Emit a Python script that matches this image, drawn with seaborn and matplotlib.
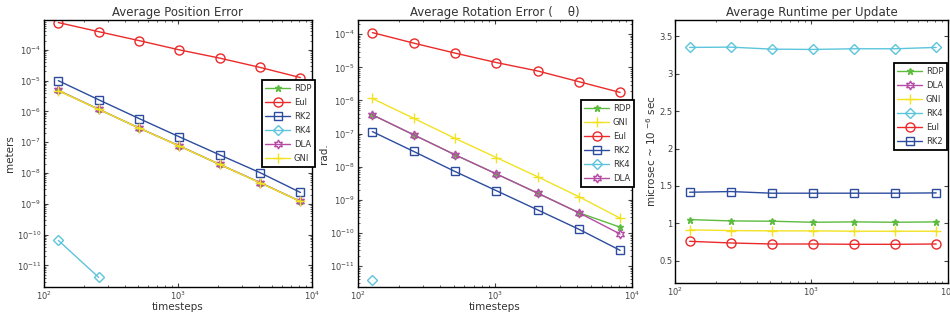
import numpy as np
import pandas as pd
import matplotlib
matplotlib.use("Agg")
import matplotlib.pyplot as plt
import seaborn as sns
from matplotlib.lines import Line2D

# timesteps
steps = [128, 256, 512, 1024, 2048, 4096, 8192]
nan = np.nan

# Average position error (meters)
pos_rdp = [4.8e-6, 1.18e-6, 2.9e-7, 7.6e-8, 1.9e-8, 4.9e-9, 1.2e-9]
pos_eul = [7.7e-4, 3.9e-4, 2.0e-4, 1.0e-4, 5.4e-5, 2.7e-5, 1.26e-5]
pos_rk2 = [1.0e-5, 2.4e-6, 5.9e-7, 1.5e-7, 3.9e-8, 1.03e-8, 2.35e-9]
pos_rk4 = [6.5e-11, 4.1e-12, nan, nan, nan, nan, nan]
pos_dla = [4.8e-6, 1.18e-6, 2.9e-7, 7.6e-8, 1.9e-8, 4.9e-9, 1.2e-9]
pos_gni = [4.7e-6, 1.17e-6, 2.9e-7, 7.5e-8, 1.9e-8, 4.8e-9, 1.2e-9]

# Average rotation error (rad.)
rot_rdp = [3.7e-7, 9.2e-8, 2.3e-8, 6.1e-9, 1.6e-9, 4.1e-10, 1.5e-10]
rot_gni = [1.15e-6, 2.9e-7, 7.2e-8, 1.9e-8, 5.0e-9, 1.25e-9, 2.8e-10]
rot_eul = [1.12e-4, 5.4e-5, 2.7e-5, 1.4e-5, 7.8e-6, 3.7e-6, 1.75e-6]
rot_rk2 = [1.15e-7, 2.9e-8, 7.2e-9, 1.9e-9, 5.0e-10, 1.3e-10, 3.0e-11]
rot_rk4 = [3.9e-12, nan, nan, nan, nan, nan, nan]
rot_dla = [3.7e-7, 9.2e-8, 2.3e-8, 6.1e-9, 1.6e-9, 4.1e-10, 9.3e-11]

# Average runtime per update (microsec)
run_rdp = [1.049, 1.031, 1.027, 1.013, 1.018, 1.013, 1.018]
run_dla = [nan, nan, nan, nan, nan, nan, nan]
run_gni = [0.911, 0.902, 0.898, 0.898, 0.893, 0.893, 0.893]
run_rk4 = [3.353, 3.357, 3.330, 3.326, 3.335, 3.335, 3.353]
run_eul = [0.758, 0.736, 0.722, 0.722, 0.718, 0.718, 0.722]
run_rk2 = [1.415, 1.424, 1.402, 1.402, 1.402, 1.402, 1.406]

styles = {
    'RDP': dict(color='#5dbb3f', marker='*', ms=5),
    'Eul': dict(color='#ec2a2a', marker='o', ms=6.5),
    'RK2': dict(color='#2c4c9e', marker='s', ms=5.5),
    'RK4': dict(color='#5cc5dc', marker='D', ms=5.5),
    'DLA': dict(color='#b44ca6', marker=(6, 1, 0), ms=6.5),
    'GNI': dict(color='#f2e222', marker='+', ms=7.5),
}

sns.set_style("ticks")
plt.rcParams['font.family'] = ['DejaVu Sans']
plt.rcParams['mathtext.fontset'] = 'dejavusans'

fig = plt.figure(figsize=(9.5, 3.2), dpi=100)
ax1 = fig.add_axes([0.0463, 0.1031, 0.2821, 0.8344])
ax2 = fig.add_axes([0.3765, 0.1031, 0.2888, 0.8344])
ax3 = fig.add_axes([0.7105, 0.1156, 0.2874, 0.8219])


def draw(ax, series, title, ylabel, xlabel, legend_anchor):
    ax.set_xscale('log')
    handles = []
    for name, vals in series:
        st = styles[name]
        mfc = st['color'] if name == 'RDP' else 'none'
        df = pd.DataFrame({'steps': steps, 'val': vals}).dropna()
        if len(df):
            sns.lineplot(data=df, x='steps', y='val', ax=ax, color=st['color'],
                         marker=st['marker'], markersize=st['ms'],
                         markerfacecolor=mfc, markeredgecolor=st['color'],
                         markeredgewidth=1.0, linewidth=1.0)
        handles.append(Line2D([], [], color=st['color'], marker=st['marker'],
                              markersize=st['ms'], markerfacecolor=mfc,
                              markeredgecolor=st['color'], markeredgewidth=1.0,
                              linewidth=1.0, label=name))
    ax.set_xlim(100, 10000)
    ax.set_title(title, fontsize=8.5, color='#333333', pad=3)
    ax.set_ylabel(ylabel, fontsize=7.5, color='#333333', labelpad=1)
    ax.set_xlabel(xlabel, fontsize=7.5, color='#333333', labelpad=0)
    ax.tick_params(which='both', direction='in', top=True, right=True,
                   labelsize=6, colors='#444444', pad=2)
    ax.tick_params(which='major', length=3)
    ax.tick_params(which='minor', length=1.5)
    for sp in ax.spines.values():
        sp.set_linewidth(1.0)
        sp.set_color('black')
    leg = ax.legend(handles=handles, loc='upper right', bbox_to_anchor=legend_anchor,
                    fontsize=6, frameon=True, fancybox=False, handlelength=3.0,
                    borderpad=0.45, labelspacing=0.6, handletextpad=0.4,
                    borderaxespad=0)
    leg.get_frame().set_edgecolor('black')
    leg.get_frame().set_linewidth(1.3)
    leg.get_frame().set_alpha(1)
    for t in leg.get_texts():
        t.set_color('#333333')


draw(ax1, [('RDP', pos_rdp), ('Eul', pos_eul), ('RK2', pos_rk2), ('RK4', pos_rk4),
           ('DLA', pos_dla), ('GNI', pos_gni)],
     'Average Position Error', 'meters', 'timesteps', (1.011, 0.775))
ax1.set_yscale('log')
ax1.set_ylim(10 ** -11.70, 10 ** -3.03)

draw(ax2, [('RDP', rot_rdp), ('GNI', rot_gni), ('Eul', rot_eul), ('RK2', rot_rk2),
           ('RK4', rot_rk4), ('DLA', rot_dla)],
     'Average Rotation Error (    θ)', 'rad.', 'timesteps', (1.007, 0.70))
ax2.set_yscale('log')
ax2.set_ylim(10 ** -11.63, 10 ** -3.57)

draw(ax3, [('RDP', run_rdp), ('DLA', run_dla), ('GNI', run_gni), ('RK4', run_rk4),
           ('Eul', run_eul), ('RK2', run_rk2)],
     'Average Runtime per Update', r'microsec ~ 10 $^{-6}$ sec', '', (0.996, 0.836))
ax3.set_ylim(0.2, 3.72)
ax3.set_yticks([0.5, 1, 1.5, 2, 2.5, 3, 3.5])
ax3.set_yticklabels(['0.5', '1', '1.5', '2', '2.5', '3', '3.5'])

fig.savefig("out.png", dpi=100)
